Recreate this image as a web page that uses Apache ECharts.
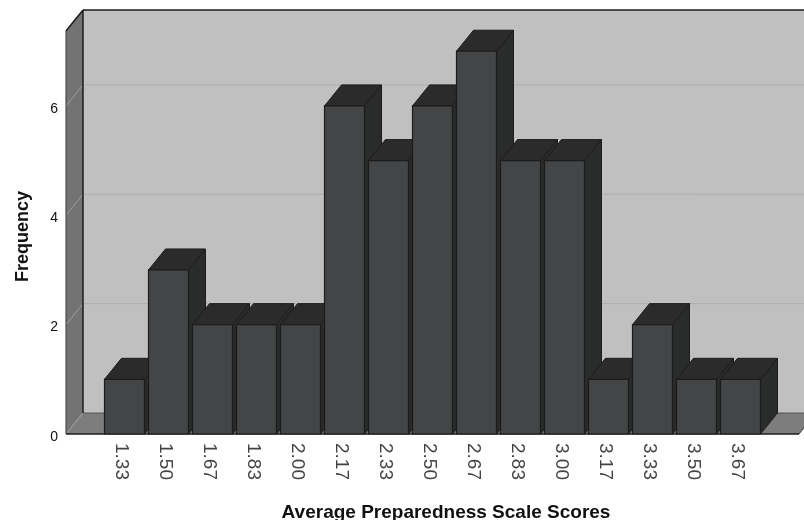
<!DOCTYPE html>
<html>
<head>
<meta charset="utf-8">
<style>html,body{margin:0;padding:0;background:#fff}#chart{width:804px;height:520px}</style>
<script src="https://cdn.jsdelivr.net/npm/echarts@6/dist/echarts.min.js"></script>
</head>
<body>
<div id="chart"></div>
<script>
// Frequency histogram of preparedness scores, drawn as extruded 3D columns.
const categories = ['1.33','1.50','1.67','1.83','2.00','2.17','2.33','2.50','2.67','2.83','3.00','3.17','3.33','3.50','3.67'];
const frequencies = [1,3,2,2,2,6,5,6,7,5,5,1,2,1,1];
const yTicks = [0,2,4,6];
const gridValues = [2,4,6];
const yMax = 7.37;

// Extrusion of the box, in pixels
const DX = 17, DY = 21;
// Space between the first/last column centre and the box ends, in category bands
const SIDE_BANDS = 1.33;
const BAR_RATIO = 40 / 44;

const EDGE = '#1c1c1c';

function poly(points, fill, stroke, width) {
  return { type: 'polygon', shape: { points },
    style: { fill, stroke: stroke || 'none', lineWidth: width || 1 } };
}
function line(x1, y1, x2, y2, stroke, width) {
  return { type: 'line', shape: { x1, y1, x2, y2 },
    style: { stroke, lineWidth: width || 1, fill: 'none' } };
}

// Back wall, left wall, floor and gridlines
function renderBox(params, api) {
  const band = api.size([1, 0])[0];
  const first = api.coord([0, 0]);
  const last = api.coord([categories.length - 1, yMax]);
  const x0 = first[0] - SIDE_BANDS * band;
  const x1 = last[0] + SIDE_BANDS * band;
  const yB = first[1], yT = last[1];
  const kids = [
    poly([[x0 + DX, yT - DY], [x1 + DX, yT - DY], [x1 + DX, yB - DY], [x0 + DX, yB - DY]], '#c0c0c0'),
    poly([[x0, yT], [x0 + DX, yT - DY], [x0 + DX, yB - DY], [x0, yB]], '#737373'),
    poly([[x0, yB], [x0 + DX, yB - DY], [x1 + DX, yB - DY], [x1, yB]], '#7d7d7d')
  ];
  gridValues.forEach(function (v) {
    const y = api.coord([0, v])[1];
    kids.push(line(x0, y, x0 + DX, y - DY, '#9c9c9c'));
    kids.push(line(x0 + DX, y - DY, x1 + DX, y - DY, '#aeaeae'));
  });
  kids.push(line(x0, yB, x0 + DX, yB - DY, '#a0a0a0'));
  kids.push(line(x0 + DX, yB - DY, x1 + DX, yB - DY, '#555555'));
  kids.push(line(x0, yT, x0 + DX, yT - DY, EDGE, 1.5));
  kids.push(line(x0 + DX, yT - DY, x1 + DX, yT - DY, EDGE, 1.5));
  kids.push(line(x0 + DX, yT - DY, x0 + DX, yB - DY, EDGE, 1.5));
  kids.push(line(x0, yT, x0, yB, '#3a3a3a', 1));
  kids.push(line(x0, yB, x1, yB, EDGE, 1.5));
  kids.push(line(x1, yB, x1 + DX, yB - DY, '#3a3a3a', 1));
  return { type: 'group', children: kids };
}

// One extruded column: side, top, then front
function renderColumn(params, api) {
  const idx = api.value(0);
  const top = api.coord([idx, api.value(1)]);
  const base = api.coord([idx, 0]);
  const w = api.size([1, 0])[0] * BAR_RATIO;
  const l = top[0] - w / 2, r = top[0] + w / 2;
  const t = top[1], b = base[1];
  return { type: 'group', children: [
    poly([[r, t], [r + DX, t - DY], [r + DX, b - DY], [r, b]], '#2a2c2b', EDGE),
    poly([[l, t], [l + DX, t - DY], [r + DX, t - DY], [r, t]], '#2b2b2b', EDGE),
    poly([[l, t], [r, t], [r, b], [l, b]], '#434547', EDGE, 1.2)
  ] };
}

const chart = echarts.init(document.getElementById('chart'), null, { renderer: 'canvas' });
chart.setOption({
  animation: false,
  backgroundColor: '#ffffff',
  textStyle: { fontFamily: 'Liberation Sans' },
  grid: { left: 102.5, right: 41.5, top: 31, bottom: 86, containLabel: false, outerBoundsMode: 'none' },
  xAxis: {
    type: 'category',
    data: categories,
    name: 'Average Preparedness Scale Scores',
    nameLocation: 'middle',
    nameGap: 69,
    nameTextStyle: { fontSize: 19, fontWeight: 'bold', color: '#111', padding: [0, 0, 0, 27] },
    axisLine: { show: false },
    axisTick: { show: false },
    axisLabel: { rotate: -90, margin: 9, fontSize: 19, color: '#444', interval: 0, verticalAlign: 'top', lineHeight: 7 }
  },
  yAxis: {
    type: 'value',
    min: 0,
    max: yMax,
    offset: 36.5,
    name: 'Frequency',
    nameLocation: 'middle',
    nameGap: 34,
    nameRotate: 90,
    nameTextStyle: { fontSize: 18, fontWeight: 'bold', color: '#111', padding: [0, 0, 0, -8] },
    axisLine: { show: false },
    axisTick: { show: false },
    splitLine: { show: false },
    axisLabel: { customValues: yTicks, margin: 8, fontSize: 14, color: '#111', verticalAlign: 'top', lineHeight: 6 }
  },
  series: [
    { type: 'custom', data: [[0, 0]], renderItem: renderBox, z: 1, silent: true, clip: false },
    { type: 'custom', data: frequencies.map(function (v, i) { return [i, v]; }),
      encode: { x: 0, y: 1 }, renderItem: renderColumn, z: 2, clip: false }
  ]
});
</script>
</body>
</html>
